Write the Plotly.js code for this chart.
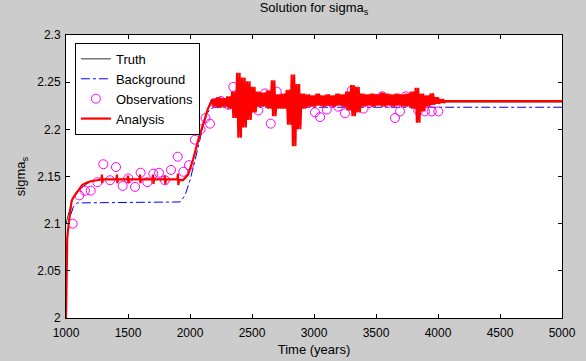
<!DOCTYPE html>
<html>
<head>
<meta charset="utf-8">
<script src="https://cdn.plot.ly/plotly-3.0.1.min.js"></script>
<style>
html,body{margin:0;padding:0;background:#cccccc;}
#chart{width:586px;height:361px;}
</style>
</head>
<body>
<div id="chart"></div>
<script>
// ---- Data ----
// Truth
const truthT = [1000, 1050, 1100, 1200, 1300, 1940, 1985, 2025, 2065, 2105, 2145, 2185, 5000];
const truthV = [2.100, 2.125, 2.136, 2.145, 2.147, 2.147, 2.152, 2.168, 2.188, 2.206, 2.222, 2.229, 2.229];

// Background
const bgT = [1040, 1060, 1090, 1920, 1960, 2000, 2040, 2080, 2105, 2137, 2170, 2200, 5000];
const bgV = [2.110, 2.118, 2.122, 2.123, 2.130, 2.146, 2.167, 2.189, 2.203, 2.217, 2.222, 2.2234, 2.2234];

// Observations
const obsT = [1054, 1107, 1153, 1199, 1253, 1301, 1355, 1403, 1457, 1502, 1557, 1602, 1656, 1704, 1750, 1798, 1847, 1901, 1946, 1992,
              2040, 2085, 2125, 2161, 2200, 2250, 2309, 2349, 2450, 2500, 2551, 2605, 2651, 2699, 2750, 2800, 2850, 2900, 2954,
              3008, 3049, 3103, 3150, 3196, 3250, 3304, 3350, 3400, 3452, 3500, 3550, 3600, 3653, 3694, 3740, 3800, 3841, 3895, 3949, 4003];
const obsV = [2.100, 2.130, 2.135, 2.135, 2.144, 2.163, 2.146, 2.160, 2.140, 2.148, 2.139, 2.154, 2.144, 2.153, 2.154, 2.146, 2.157, 2.171, 2.155, 2.162,
              2.189, 2.200, 2.212, 2.206, 2.228, 2.230, 2.226, 2.245, 2.235, 2.228, 2.220, 2.238, 2.206, 2.240, 2.230, 2.235, 2.225, 2.232, 2.228,
              2.218, 2.213, 2.221, 2.228, 2.224, 2.217, 2.241, 2.230, 2.222, 2.228, 2.232, 2.235, 2.228, 2.212, 2.219, 2.235, 2.228, 2.220, 2.219, 2.219, 2.219];

// Analysis: smooth early part (with small spikes)
const anaEarlyT = [1000, 1003, 1010, 1020, 1030, 1045, 1060, 1080, 1100, 1130, 1160, 1200, 1250,
                   1285, 1290, 1293, 1298, 1350, 1406, 1411, 1414, 1419, 1495, 1500, 1503, 1508,
                   1592, 1597, 1600, 1605, 1697, 1702, 1705, 1710, 1793, 1798, 1801, 1806,
                   1898, 1903, 1906, 1911, 1944, 1985, 2025, 2065, 2105, 2145];
const anaEarlyV = [2.000, 2.050, 2.085, 2.098, 2.110, 2.124, 2.128, 2.132, 2.136, 2.141, 2.143, 2.145, 2.146,
                   2.147, 2.152, 2.143, 2.147, 2.147, 2.147, 2.152, 2.143, 2.147, 2.147, 2.151, 2.143, 2.147,
                   2.147, 2.152, 2.143, 2.147, 2.147, 2.152, 2.142, 2.147, 2.147, 2.151, 2.142, 2.147,
                   2.147, 2.153, 2.141, 2.146, 2.146, 2.152, 2.168, 2.188, 2.206, 2.222];

// Analysis: oscillating part; for each 40-year cell, the upper and lower swing
const anaOscStart = 2180;
const anaOscHi = [2.232, 2.234, 2.233, 2.235, 2.240, 2.260, 2.255, 2.251, 2.245, 2.240, 2.239, 2.241, 2.252, 2.237, 2.238, 2.242,
                  2.258, 2.248, 2.238, 2.237, 2.236, 2.238, 2.236, 2.237, 2.236, 2.238, 2.237, 2.240, 2.247, 2.245, 2.238, 2.237,
                  2.238, 2.237, 2.239, 2.238, 2.237, 2.238, 2.237, 2.238, 2.240, 2.244, 2.238, 2.236, 2.238, 2.234, 2.232];
const anaOscLo = [2.224, 2.223, 2.224, 2.222, 2.212, 2.191, 2.202, 2.210, 2.218, 2.224, 2.224, 2.222, 2.214, 2.222, 2.222, 2.205,
                  2.182, 2.200, 2.222, 2.224, 2.224, 2.225, 2.224, 2.225, 2.224, 2.225, 2.224, 2.220, 2.214, 2.218, 2.224, 2.225,
                  2.224, 2.225, 2.224, 2.225, 2.224, 2.225, 2.224, 2.224, 2.222, 2.207, 2.219, 2.224, 2.226, 2.227, 2.228];
// Analysis: flat tail
const anaTailT = [4060, 5000];
const anaTailV = [2.230, 2.230];

// ---- Build analysis series (fast oscillation: two swings per 40-year cell) ----
const anaT = anaEarlyT.slice();
const anaV = anaEarlyV.slice();
for (let i = 0; i < anaOscHi.length; i++) {
  const t0 = anaOscStart + 40 * i;
  for (let k = 0; k < 4; k++) {
    anaT.push(t0 + 10 * k);
    anaV.push(k % 2 === 0 ? anaOscHi[i] : anaOscLo[i]);
  }
}
for (let i = 0; i < anaTailT.length; i++) { anaT.push(anaTailT[i]); anaV.push(anaTailV[i]); }

const xTicks = [1000, 1500, 2000, 2500, 3000, 3500, 4000, 4500, 5000];
const yTicks = [2, 2.05, 2.1, 2.15, 2.2, 2.25, 2.3];
const yTickText = ['2', '2.05', '2.1', '2.15', '2.2', '2.25', '2.3'];

const FONT = 'Liberation Sans, Arial, sans-serif';

const traces = [
  {x: truthT, y: truthV, name: 'Truth', mode: 'lines', line: {color: '#333333', width: 1}},
  {x: bgT, y: bgV, name: 'Background', mode: 'lines', line: {color: '#0000ff', width: 1, dash: 'dashdot'}},
  {x: obsT, y: obsV, name: 'Observations', mode: 'markers',
   marker: {symbol: 'circle-open', color: '#ff00ff', size: 9, line: {width: 1, color: '#ff00ff'}}},
  {x: anaT, y: anaV, name: 'Analysis', mode: 'lines', line: {color: '#ff0000', width: 2.2}}
];

const axisCommon = {
  showgrid: false, zeroline: false, showline: true, linecolor: '#000', linewidth: 1,
  mirror: 'ticks', ticks: 'inside', ticklen: 4, tickcolor: '#000', tickwidth: 1,
  tickfont: {family: FONT, size: 12, color: '#000'}
};

const layout = {
  width: 586, height: 361,
  paper_bgcolor: '#cccccc', plot_bgcolor: '#ffffff',
  margin: {l: 66, r: 24, t: 35, b: 43},
  font: {family: FONT, size: 12, color: '#000'},
  title: {text: 'Solution for sigma<sub>s</sub>', font: {family: FONT, size: 13, color: '#000'},
          x: 0.5, xref: 'paper', xanchor: 'center', y: 0.978, yref: 'container', yanchor: 'middle'},
  xaxis: Object.assign({}, axisCommon, {
    range: [1000, 5000], tickvals: xTicks, ticktext: xTicks.map(String), ticklabelstandoff: 4,
    title: {text: 'Time (years)', font: {family: FONT, size: 13, color: '#000'}, standoff: 5}
  }),
  yaxis: Object.assign({}, axisCommon, {
    range: [2, 2.3], tickvals: yTicks, ticktext: yTickText, ticklabelstandoff: 2,
    title: {text: 'sigma<sub>s</sub>', font: {family: FONT, size: 13, color: '#000'}, standoff: 8}
  }),
  showlegend: true,
  legend: {x: 0.018, y: 0.972, xanchor: 'left', yanchor: 'top', bgcolor: '#ffffff',
           bordercolor: '#000', borderwidth: 1, font: {family: FONT, size: 13, color: '#000'},
           tracegroupgap: 0}
};

Plotly.newPlot('chart', traces, layout, {displayModeBar: false, staticPlot: true});
</script>
</body>
</html>
